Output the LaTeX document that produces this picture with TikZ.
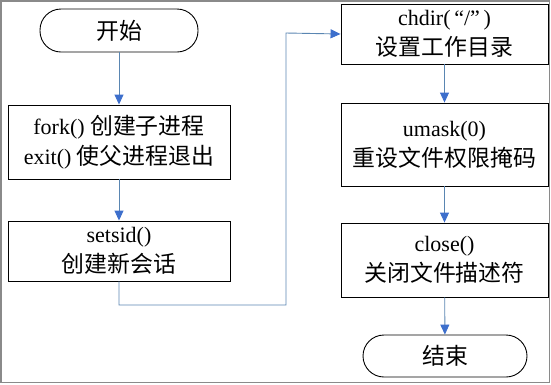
\documentclass[tikz,border=0pt]{standalone}
\usepackage{fontspec}
\setmainfont{Liberation Serif}
\newfontfamily\cjk{Noto Sans CJK SC}[Scale=1.04]
\usetikzlibrary{arrows.meta}
\definecolor{lineblue}{HTML}{5A86B2}
\definecolor{tipblue}{HTML}{3D6FCC}
\definecolor{framegray}{HTML}{8A8A8A}
\tikzset{
  procbox/.style={draw=black, line width=0.9pt, minimum width=222pt, align=center, font=\fontsize{22}{30}\selectfont, inner sep=0pt},
  termbox/.style={draw=black, line width=0.9pt, rounded corners=21pt, align=center, font=\fontsize{22}{30}\selectfont, inner sep=0pt},
  conn/.style={draw=lineblue, line width=0.9pt, -{Triangle[length=10pt,width=9pt,color=tipblue]}},
  plainconn/.style={draw=lineblue, line width=0.9pt}
}
\begin{document}
\begin{tikzpicture}[x=1pt,y=-1pt]
\useasboundingbox (0,0) rectangle (551,384);
\draw[framegray, line width=1.5pt] (1,1) rectangle (549.5,382.5);
% left column
\node[termbox, minimum width=158pt, minimum height=43pt] (start) at (119,30.5) {\cjk 开始};
\node[procbox, minimum height=74pt] (fork) at (119,142) {fork() {\cjk 创建子进程}\\exit() {\cjk 使父进程退出}};
\node[procbox, minimum height=60pt] (setsid) at (119,251) {setsid()\\{\cjk 创建新会话}};
% right column
\node[procbox, minimum width=207pt, minimum height=60pt] (chdir) at (444.5,34) {chdir(\,“/”\,)\\{\cjk 设置工作目录}};
\node[procbox, minimum width=207pt, minimum height=83pt] (umask) at (444.5,144.5) {umask(0)\\{\cjk 重设文件权限掩码}};
\node[procbox, minimum width=207pt, minimum height=74pt] (close) at (444.5,260) {close()\\{\cjk 关闭文件描述符}};
\node[termbox, minimum width=164pt, minimum height=42pt] (end) at (445,356) {\cjk 结束};
\coordinate (c1) at (119,305);
\coordinate (c2) at (286,305);
\coordinate (c3) at (286,33);
% connectors
\draw[conn] (start) -- (fork);
\draw[conn] (fork) -- (setsid);
\draw[conn] (setsid.south) -- (c1) -- (c2) -- (c3) -- (chdir.west);
\draw[conn] (chdir) -- (umask);
\draw[conn] (umask) -- (close);
\draw[conn] (close) -- (end);
\end{tikzpicture}
\end{document}
